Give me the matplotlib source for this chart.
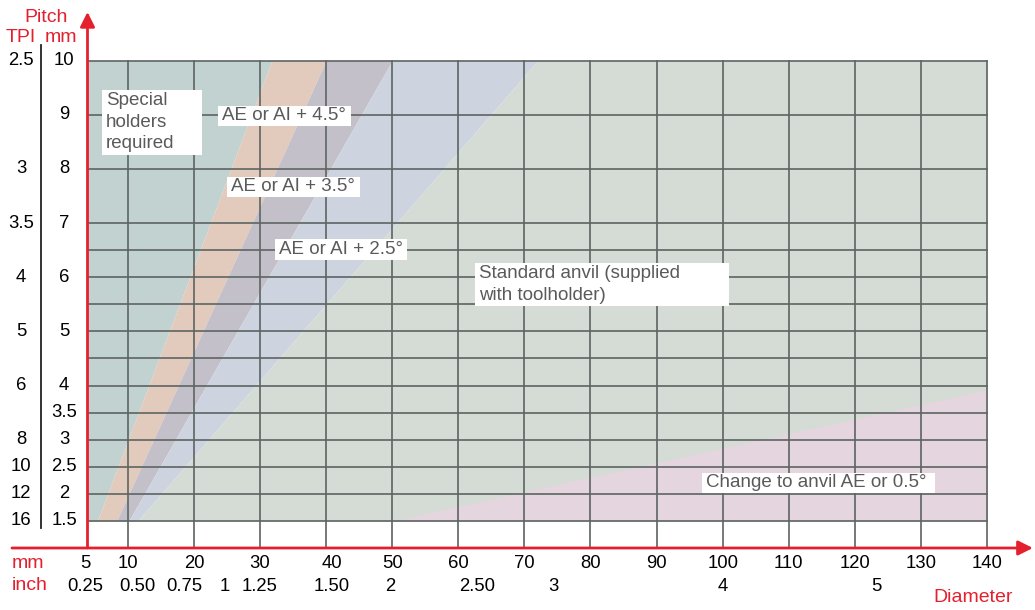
import matplotlib.pyplot as plt
from matplotlib.patches import Rectangle

plt.rcParams["font.family"] = ["Liberation Sans", "DejaVu Sans"]

# pitch range covered by the zones (mm)
pitch_span = [1.5, 10]

# zone boundaries: diameter (mm) at pitch 1.5 and at pitch 10
edge_special = [5.4, 31.8]
edge_45 = [8.3, 40.0]
edge_35 = [10.15, 50.0]
edge_25 = [11.5, 72.0]

# "change to anvil" zone: lower-right triangle
pink_x = [50, 140]
pink_top = [1.5, 3.92]

# axis ranges
x_min, x_max = 3.9, 140
y_min, y_max = 1.0, 10

# grid
grid_x = [10, 20, 30, 40, 50, 60, 70, 80, 90, 100, 110, 120, 130, 140]
grid_y = [1.5, 2, 2.5, 3, 3.5, 4, 4.5, 5, 5.5, 6, 6.5, 7, 8, 9, 10]

# y labels
mm_labels = [10, 9, 8, 7, 6, 5, 4, 3.5, 3, 2.5, 2, 1.5]
tpi_labels = ["2.5", "3", "3.5", "4", "5", "6", "8", "10", "12", "16"]
tpi_pitch = [10, 8, 7, 6, 5, 4, 3, 2.5, 2, 1.5]

# x labels
dia_mm_labels = ["5", "10", "20", "30", "40", "50", "60", "70", "80", "90",
                 "100", "110", "120", "130", "140"]
dia_mm_pos = [3.6, 10, 20, 30, 40.9, 50, 60, 70, 80, 90, 100, 110, 120, 130, 140]
dia_inch_labels = ["0.25", "0.50", "0.75", "1", "1.25", "1.50", "2", "2.50", "3", "4", "5"]
dia_inch_pos = [3.6, 11.4, 18.5, 24.7, 30, 40.9, 49.7, 62.9, 74.4, 100, 123.2]

# zone labels: text, box (x0, x1, y0, y1) in data units
zone_labels = [
    ("Special\nholders\nrequired", (6.06, 21.2, 8.26, 9.46)),
    ("AE or AI + 4.5°", (23.6, 43.8, 8.8, 9.17)),
    ("AE or AI + 3.5°", (25.0, 45.2, 7.49, 7.86)),
    ("AE or AI + 2.5°", (32.2, 52.2, 6.32, 6.70)),
    ("Standard anvil (supplied\nwith toolholder)", (62.6, 100.9, 5.47, 6.27)),
    ("Change to anvil AE or 0.5°", (96.9, 132.2, 2.02, 2.39)),
]

RED = "#e5202e"
GRID = "#5d6462"
LABEL = "#5a5a5a"

W, H = 1035, 610


def px(x, y):
    # figure pixel -> figure fraction
    return x / W, 1 - y / H


fig = plt.figure(figsize=(W / 100, H / 100), dpi=100)
ax = fig.add_axes([87.5 / W, 1 - 548 / H, (987 - 87.5) / W, (548 - 60.7) / H])
ax.set_xlim(x_min, x_max)
ax.set_ylim(y_min, y_max)
ax.axis("off")

# zones
ax.fill_betweenx(pitch_span, [x_min, x_min], edge_special, color="#c1d2d1", lw=0, zorder=1)
ax.fill_betweenx(pitch_span, edge_special, edge_45, color="#e2cbbc", lw=0, zorder=1)
ax.fill_betweenx(pitch_span, edge_45, edge_35, color="#c4c0c9", lw=0, zorder=1)
ax.fill_betweenx(pitch_span, edge_35, edge_25, color="#cdd4e0", lw=0, zorder=1)
ax.fill_betweenx(pitch_span, edge_25, [x_max, x_max], color="#d5dbd5", lw=0, zorder=1)
ax.fill_between(pink_x, [1.5, 1.5], pink_top, color="#e5d5df", lw=0, zorder=2)

# grid
for gx in grid_x:
    ax.axvline(gx, color=GRID, lw=1.2, zorder=3, clip_on=False)
for gy in grid_y:
    ax.axhline(gy, color=GRID, lw=1.2, zorder=3, clip_on=False)

# zone labels on white boxes
for text, (x0, x1, y0, y1) in zone_labels:
    ax.add_patch(Rectangle((x0, y0), x1 - x0, y1 - y0, fc="white", ec="none", zorder=4))
    ax.text(x0 + 0.6, (y0 + y1) / 2, text, ha="left", va="center", fontsize=13.5,
            color=LABEL, linespacing=1.35, zorder=5)

# red axes with arrows
ax.annotate("", xy=(1.051, 0), xytext=(-0.084, 0), xycoords="axes fraction",
            arrowprops=dict(arrowstyle="-|>", color=RED, lw=2, mutation_scale=22,
                            shrinkA=0, shrinkB=0), zorder=6)
ax.annotate("", xy=(0, 1.1), xytext=(0, 0), xycoords="axes fraction",
            arrowprops=dict(arrowstyle="-|>", color=RED, lw=2, mutation_scale=22,
                            shrinkA=0, shrinkB=0), zorder=6)

# separator between TPI and mm columns
ax.plot([-0.0517, -0.0517], [0.041, 1.032], color="#222222", lw=1.3,
        transform=ax.transAxes, clip_on=False)

# y tick labels
ytr = ax.get_yaxis_transform()
for v in mm_labels:
    ax.text(-0.0261, v, f"{v:g}", transform=ytr, ha="center", va="center", fontsize=13.3)
for lab, v in zip(tpi_labels, tpi_pitch):
    ax.text(-0.0739, v, lab, transform=ytr, ha="center", va="center", fontsize=13.3)

# x tick labels
xtr = ax.get_xaxis_transform()
for lab, v in zip(dia_mm_labels, dia_mm_pos):
    ax.text(v, -0.031, lab, transform=xtr, ha="center", va="center", fontsize=13.3)
for lab, v in zip(dia_inch_labels, dia_inch_pos):
    ax.text(v, -0.078, lab, transform=xtr, ha="center", va="center", fontsize=13.3)

# red headings
for text, (x, y) in [("Pitch", (46, 17)), ("TPI", (21, 38)), ("mm", (61, 38)),
                     ("mm", (28, 563)), ("inch", (29.5, 585)), ("Diameter", (973, 598))]:
    fig.text(*px(x, y), text, color=RED, fontsize=14, ha="center", va="center")

fig.savefig("out.png", dpi=100)
